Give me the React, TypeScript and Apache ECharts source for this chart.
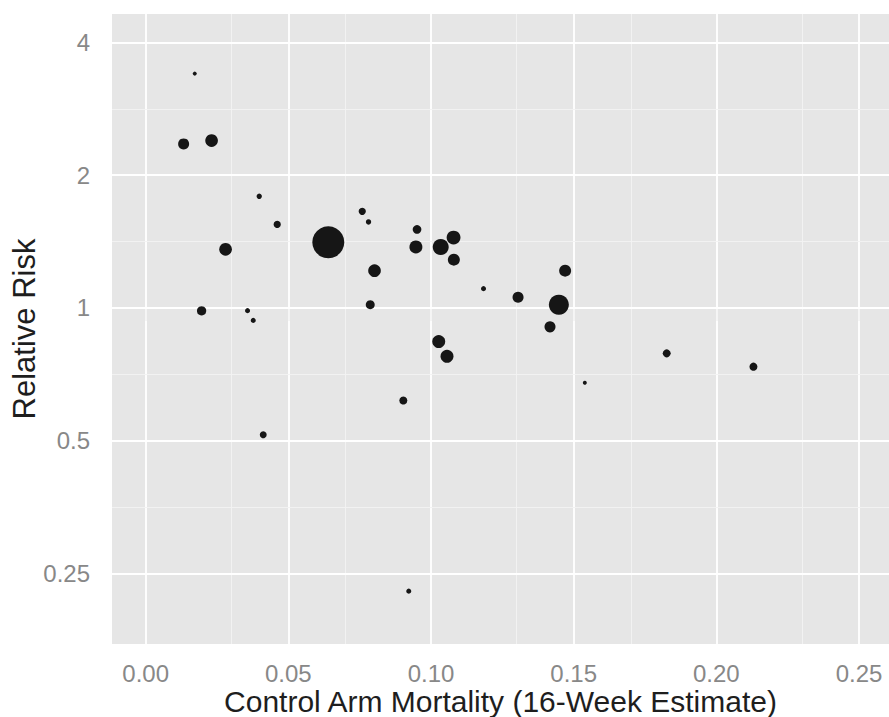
import React, { useEffect, useRef } from "react";
import * as echarts from "echarts";

// Control arm mortality (x), relative risk (y), study weight (marker area)
const controlMortality = [
  0.0133, 0.0231, 0.0172, 0.028, 0.0196, 0.0398, 0.0461, 0.0357, 0.0377, 0.0412,
  0.064, 0.0759, 0.0781, 0.0802, 0.0787, 0.0903, 0.0922, 0.0951, 0.0947, 0.1034,
  0.1079, 0.108, 0.1027, 0.1056, 0.1184, 0.1305, 0.147, 0.1448, 0.1417, 0.1539,
  0.1826, 0.213,
];
const relativeRisk = [
  2.355, 2.396, 3.399, 1.358, 0.985, 1.791, 1.547, 0.986, 0.937, 0.516,
  1.409, 1.656, 1.567, 1.215, 1.017, 0.617, 0.228, 1.507, 1.375, 1.375,
  1.444, 1.287, 0.839, 0.777, 1.106, 1.058, 1.215, 1.017, 0.906, 0.677,
  0.789, 0.736,
];
const studyWeight = [
  7.6, 10, 1, 10, 5.4, 1.8, 3.3, 1.6, 1.6, 3,
  64, 3.3, 1.8, 10, 5, 4, 1.6, 4.7, 10.5, 16,
  12, 9, 10.5, 10.5, 1.6, 7.6, 9, 25, 7.6, 1,
  4, 4,
];

const xTicks = [0, 0.05, 0.1, 0.15, 0.2, 0.25];
const xMinor = [0.025, 0.075, 0.125, 0.175, 0.225];
const yTickValues = [0.25, 0.5, 1, 2, 4];
const yTickLabels = ["0.25", "0.5", "1", "2", "4"];
const yMinorValues = [0.3536, 0.7071, 1.4142, 2.8284];

const xRange = [-0.0118, 0.2605];
const yRange = [0.173, 4.64];

const FONT = "'Liberation Sans', Arial, Helvetica, sans-serif";

export default function App() {
  const ref = useRef<HTMLDivElement>(null);

  useEffect(() => {
    if (!ref.current) return;
    const chart = echarts.init(ref.current, null, { renderer: "svg" });
    const log2 = (v: number) => Math.log2(v);
    const yTickLog = yTickValues.map(log2);

    const gridLines = [
      ...xTicks.map((v) => ({ xAxis: v, lineStyle: { color: "#ffffff", width: 1.8, type: "solid" } })),
      ...xMinor.map((v) => ({ xAxis: v, lineStyle: { color: "#f3f3f3", width: 0.9, type: "solid" } })),
      ...yTickValues.map((v) => ({ yAxis: log2(v), lineStyle: { color: "#ffffff", width: 1.8, type: "solid" } })),
      ...yMinorValues.map((v) => ({ yAxis: log2(v), lineStyle: { color: "#f3f3f3", width: 0.9, type: "solid" } })),
    ];

    const points = controlMortality.map((x, i) => [x, log2(relativeRisk[i]), studyWeight[i]]);

    chart.setOption({
      animation: false,
      grid: {
        left: 112,
        top: 14,
        right: 0,
        bottom: 73,
        show: true,
        backgroundColor: "#e6e6e6",
        borderWidth: 0,
        containLabel: false,
        outerBoundsMode: "none",
      },
      xAxis: {
        type: "value",
        min: xRange[0],
        max: xRange[1],
        name: "Control Arm Mortality (16-Week Estimate)",
        nameLocation: "middle",
        nameGap: 42,
        nameMoveOverlap: false,
        nameTextStyle: { fontSize: 30, color: "#1e1e1e", fontFamily: FONT },
        axisLine: { show: false },
        axisTick: {
          show: true,
          customValues: xTicks,
          length: 13,
          lineStyle: { color: "#808080", width: 1.6 },
        },
        axisLabel: {
          customValues: xTicks,
          formatter: (v: number) => v.toFixed(2),
          fontSize: 24,
          color: "#888888",
          margin: 17,
          fontFamily: FONT,
        },
        splitLine: { show: false },
      },
      yAxis: {
        type: "value",
        min: log2(yRange[0]),
        max: log2(yRange[1]),
        name: "Relative Risk",
        nameLocation: "middle",
        nameGap: 72,
        nameMoveOverlap: false,
        nameRotate: 90,
        nameTextStyle: { fontSize: 31, color: "#1e1e1e", fontFamily: FONT },
        axisLine: { show: false },
        axisTick: {
          show: true,
          customValues: yTickLog,
          length: 12,
          lineStyle: { color: "#808080", width: 1.6 },
        },
        axisLabel: {
          customValues: yTickLog,
          formatter: (v: number) => {
            let best = 0;
            yTickLog.forEach((t, i) => {
              if (Math.abs(t - v) < Math.abs(yTickLog[best] - v)) best = i;
            });
            return yTickLabels[best];
          },
          fontSize: 24,
          color: "#888888",
          margin: 22,
          fontFamily: FONT,
        },
        splitLine: { show: false },
      },
      series: [
        {
          type: "scatter",
          data: [],
          z: 1,
          markLine: {
            silent: true,
            z: 1,
            symbol: ["none", "none"],
            label: { show: false },
            emphasis: { disabled: true },
            data: gridLines,
          },
        },
        {
          type: "scatter",
          z: 3,
          data: points,
          symbol: "circle",
          symbolSize: (v: number[]) => 4 * Math.sqrt(v[2]),
          itemStyle: { color: "#161616", opacity: 1 },
          emphasis: { disabled: true },
        },
      ],
    });

    return () => chart.dispose();
  }, []);

  return (
    <div
      ref={ref}
      style={{ position: "absolute", left: 0, top: 0, width: 889, height: 717 }}
    />
  );
}
